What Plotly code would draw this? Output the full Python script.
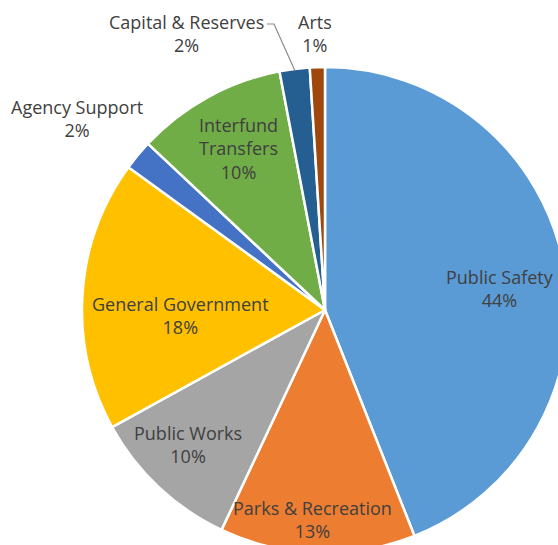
import math
import plotly.graph_objects as go

# Budget share by department (percent of total)
departments = ["Public Safety", "Parks & Recreation", "Public Works", "General Government",
               "Agency Support", "Interfund Transfers", "Capital & Reserves", "Arts"]
shares = [44, 13, 10, 18, 2, 10, 2, 1]
colors = ["#5B9BD5", "#ED7D31", "#A5A5A5", "#FFC000",
          "#4472C4", "#70AD47", "#255E91", "#9E480E"]

FONT = "Open Sans"
TEXT_COLOR = "#404040"

# Figure geometry: the pie fills a square plot area of PIE_D pixels.
FIG_W, FIG_H = 568, 553
M_L, M_T = 82, 67
PIE_D = 486


def to_paper(px, py):
    """Page pixel position -> paper coordinates of the plot area."""
    return (px - M_L) / PIE_D, (FIG_H - py) / PIE_D


# Where each data label block is centred on the page (pixels)
label_centres = {
    "Public Safety": (500, 288),
    "Parks & Recreation": (312, 519),
    "Public Works": (188, 444),
    "General Government": (180, 315),
    "Agency Support": (77, 119),
    "Interfund Transfers": (238, 148),
    "Capital & Reserves": (186, 34),
    "Arts": (315, 34),
}
# names that are set on two lines inside their slice
wrapped = {"Interfund Transfers"}

fig = go.Figure(go.Pie(
    labels=departments,
    values=shares,
    sort=False,
    direction="clockwise",
    rotation=0,
    marker=dict(colors=colors, line=dict(color="white", width=2.5)),
    textinfo="none",
    showlegend=False,
    hoverinfo="label+percent",
))

total = sum(shares)
annotations = []
for name, v in zip(departments, shares):
    shown = name.replace(" ", "<br>") if name in wrapped else name
    x, y = to_paper(*label_centres[name])
    annotations.append(dict(
        x=x, y=y, xref="paper", yref="paper",
        xanchor="center", yanchor="middle",
        text=f"{shown}<br>{round(v / total * 100)}%",
        showarrow=False,
        font=dict(family=FONT, size=18, color=TEXT_COLOR),
    ))

# Leader line from the "Capital & Reserves" label to the rim of its slice
cum = 0
for name, v in zip(departments, shares):
    if name == "Capital & Reserves":
        mid = (cum + v / 2) / total * 2 * math.pi
    cum += v
tip = (0.5 + 0.497 * math.sin(mid), 0.5 + 0.497 * math.cos(mid))
p0 = to_paper(267, 24)
p1 = to_paper(274, 24)
leader = dict(
    type="path", xref="paper", yref="paper",
    path=f"M {p0[0]},{p0[1]} L {p1[0]},{p1[1]} L {tip[0]},{tip[1]}",
    line=dict(color="#8c8c8c", width=1.2),
)

fig.update_layout(
    width=FIG_W, height=FIG_H,
    margin=dict(l=M_L, r=FIG_W - M_L - PIE_D, t=M_T, b=FIG_H - M_T - PIE_D),
    paper_bgcolor="white", plot_bgcolor="white",
    annotations=annotations,
    shapes=[leader],
)

# The pie runs past the right and bottom edges; crop the page to 558x545.
clip = """
var gd = document.getElementById('{plot_id}');
document.documentElement.style.overflow = 'hidden';
document.body.style.margin = '0';
document.body.style.overflow = 'hidden';
gd.style.width = '558px';
gd.style.height = '545px';
gd.style.overflow = 'hidden';
"""

fig.write_html("out.html", post_script=clip)
